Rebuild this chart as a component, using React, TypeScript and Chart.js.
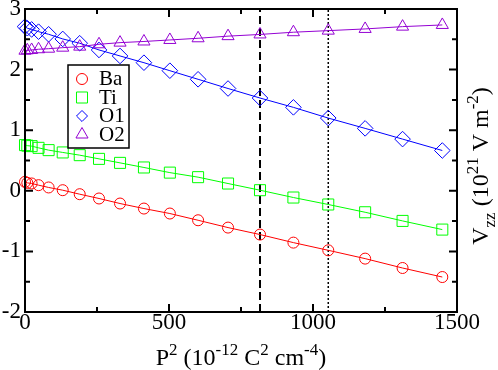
import React, { useEffect, useRef } from 'react';
import { Chart, registerables } from 'chart.js';

Chart.register(...registerables);

// ---- data ----
const P2 = [0, 8, 23, 47, 82, 131, 190, 257, 330, 413, 503, 601, 705, 816, 932, 1053, 1181, 1311, 1449];
const Ba = [0.147, 0.131, 0.121, 0.093, 0.055, 0.010, -0.056, -0.127, -0.210, -0.293, -0.375, -0.486, -0.607, -0.722, -0.855, -0.982, -1.119, -1.274, -1.423];
const Ti = [0.754, 0.745, 0.737, 0.709, 0.671, 0.633, 0.588, 0.527, 0.461, 0.385, 0.300, 0.225, 0.120, 0.010, -0.111, -0.226, -0.354, -0.497, -0.640];
const O1 = [2.709, 2.683, 2.663, 2.626, 2.583, 2.506, 2.435, 2.324, 2.225, 2.114, 1.982, 1.840, 1.688, 1.531, 1.377, 1.200, 1.030, 0.853, 0.665];
const O2 = [2.312, 2.319, 2.324, 2.336, 2.345, 2.362, 2.379, 2.418, 2.445, 2.464, 2.489, 2.517, 2.552, 2.580, 2.617, 2.643, 2.671, 2.709, 2.737];
const seriesNames = ['Ba', 'Ti', 'O1', 'O2'];
const dashedLineX = 816;
const dottedLineX = 1053;
const xRange = [0, 1500];
const yRange = [-2, 3];

const SERIF = '"Liberation Serif", "Times New Roman", "DejaVu Serif", serif';
const colors = ['#ff0000', '#00ff00', '#0000ff', '#9400d3'];
const styles = ['circle', 'rect', 'rectRot', 'triangle'];
const radii = [5.5, 7.8, 7.8, 7];

function drawMarker(ctx: CanvasRenderingContext2D, style: string, r: number, x: number, y: number) {
  ctx.beginPath();
  if (style === 'circle') {
    ctx.arc(x, y, r, 0, Math.PI * 2);
  } else if (style === 'rect') {
    const s = Math.SQRT1_2 * r;
    ctx.rect(x - s, y - s, 2 * s, 2 * s);
  } else if (style === 'rectRot') {
    const s = Math.SQRT1_2 * r;
    ctx.moveTo(x - s, y);
    ctx.lineTo(x, y + s);
    ctx.lineTo(x + s, y);
    ctx.lineTo(x, y - s);
    ctx.closePath();
  } else {
    for (let i = 0; i < 3; i++) {
      const a = (i * 2 * Math.PI) / 3;
      const px = x + Math.sin(a) * r;
      const py = y - Math.cos(a) * r;
      if (i === 0) ctx.moveTo(px, py);
      else ctx.lineTo(px, py);
    }
    ctx.closePath();
  }
  ctx.stroke();
}

type Piece = { t: string; k: 'n' | 'sup' | 'sub' };
const MAIN = 24;
const SMALL = 17;

function piecesWidth(ctx: CanvasRenderingContext2D, pieces: Piece[]) {
  let w = 0;
  for (const p of pieces) {
    ctx.font = `${p.k === 'n' ? MAIN : SMALL}px ${SERIF}`;
    w += ctx.measureText(p.t).width;
  }
  return w;
}
function drawPieces(ctx: CanvasRenderingContext2D, pieces: Piece[], x0: number, y0: number) {
  let x = x0;
  ctx.textBaseline = 'alphabetic';
  ctx.textAlign = 'left';
  for (const p of pieces) {
    ctx.font = `${p.k === 'n' ? MAIN : SMALL}px ${SERIF}`;
    const dy = p.k === 'sup' ? -10 : p.k === 'sub' ? 7 : 0;
    ctx.fillText(p.t, x, y0 + dy);
    x += ctx.measureText(p.t).width;
  }
}

const xTitle: Piece[] = [
  { t: 'P', k: 'n' }, { t: '2', k: 'sup' }, { t: ' (10', k: 'n' }, { t: '-12', k: 'sup' },
  { t: ' C', k: 'n' }, { t: '2', k: 'sup' }, { t: ' cm', k: 'n' }, { t: '-4', k: 'sup' }, { t: ')', k: 'n' },
];
const yTitle: Piece[] = [
  { t: 'V', k: 'n' }, { t: 'zz', k: 'sub' }, { t: ' (10', k: 'n' }, { t: '21', k: 'sup' },
  { t: ' V m', k: 'n' }, { t: '-2', k: 'sup' }, { t: ')', k: 'n' },
];

const decor = {
  id: 'decor',
  afterDraw(chart: any) {
    const { ctx, chartArea: a, scales } = chart;
    const xs = scales.x;
    const ys = scales.y;
    ctx.save();
    ctx.strokeStyle = '#000';
    ctx.fillStyle = '#000';
    ctx.lineWidth = 2;
    ctx.strokeRect(a.left, a.top, a.right - a.left, a.bottom - a.top);
    ctx.beginPath();
    for (let v = xRange[0] + 250; v < xRange[1]; v += 250) {
      const px = xs.getPixelForValue(v);
      const len = v % 500 === 0 ? 8 : 5;
      ctx.moveTo(px, a.bottom);
      ctx.lineTo(px, a.bottom - len);
      ctx.moveTo(px, a.top);
      ctx.lineTo(px, a.top + len);
    }
    for (let v = yRange[0] + 0.5; v < yRange[1]; v += 0.5) {
      const py = ys.getPixelForValue(v);
      const len = Math.abs(v - Math.round(v)) < 1e-6 ? 8 : 5;
      ctx.moveTo(a.left, py);
      ctx.lineTo(a.left + len, py);
      ctx.moveTo(a.right, py);
      ctx.lineTo(a.right - len, py);
    }
    ctx.stroke();

    // legend
    const bx = 68, by = 65, bw = 61, bh = 83;
    ctx.fillStyle = '#fff';
    ctx.fillRect(bx, by, bw, bh);
    ctx.lineWidth = 1.5;
    ctx.strokeStyle = '#000';
    ctx.strokeRect(bx, by, bw, bh);
    seriesNames.forEach((name, i) => {
      const iy = 79 + i * 18.5;
      ctx.strokeStyle = colors[i];
      ctx.lineWidth = 1;
      drawMarker(ctx, styles[i], radii[i], 82, iy);
      ctx.fillStyle = '#000';
      ctx.font = `21px ${SERIF}`;
      ctx.textAlign = 'left';
      ctx.textBaseline = 'middle';
      ctx.fillText(name, 99, iy + 0.5);
    });

    // titles
    ctx.fillStyle = '#000';
    const cx = (a.left + a.right) / 2;
    const wx = piecesWidth(ctx, xTitle);
    drawPieces(ctx, xTitle, cx - wx / 2, 365);
    const wy = piecesWidth(ctx, yTitle);
    ctx.translate(488, 166);
    ctx.rotate(-Math.PI / 2);
    drawPieces(ctx, yTitle, -wy / 2, 0);
    ctx.restore();
  },
};

export default function App() {
  const ref = useRef<HTMLCanvasElement | null>(null);
  useEffect(() => {
    document.body.style.margin = '0';
    const series = [Ba, Ti, O1, O2];
    const datasets: any[] = series.map((vals, i) => ({
      label: seriesNames[i],
      data: P2.map((x, j) => ({ x, y: vals[j] })),
      borderColor: colors[i],
      backgroundColor: 'rgba(0,0,0,0)',
      borderWidth: 1,
      pointStyle: styles[i],
      pointRadius: radii[i],
      pointBorderWidth: 1,
      pointBorderColor: colors[i],
      pointBackgroundColor: 'rgba(0,0,0,0)',
      showLine: true,
      clip: false,
      order: 4 - i,
    }));
    datasets.push({
      label: 'dashed',
      data: [{ x: dashedLineX, y: yRange[0] }, { x: dashedLineX, y: yRange[1] }],
      borderColor: '#000',
      borderWidth: 2,
      borderDash: [8, 4],
      pointRadius: 0,
      showLine: true,
      order: 10,
    });
    datasets.push({
      label: 'dotted',
      data: [{ x: dottedLineX, y: yRange[0] }, { x: dottedLineX, y: yRange[1] }],
      borderColor: '#000',
      borderWidth: 1.5,
      borderDash: [2, 2],
      pointRadius: 0,
      showLine: true,
      order: 10,
    });
    const chart = new Chart(ref.current as HTMLCanvasElement, {
      type: 'scatter',
      data: { datasets },
      options: {
        animation: false,
        responsive: false,
        devicePixelRatio: 1,
        layout: { padding: { left: 0, top: 9, right: 41, bottom: 0 } },
        plugins: { legend: { display: false }, tooltip: { enabled: false } },
        scales: {
          x: {
            type: 'linear',
            min: xRange[0],
            max: xRange[1],
            grid: { display: false, drawTicks: false },
            border: { display: false },
            ticks: {
              stepSize: 500,
              padding: 1,
              color: '#000',
              font: { family: SERIF, size: 23, lineHeight: 0.9 },
              maxRotation: 0,
              callback: (v: any) => String(v),
            },
            afterFit: (s: any) => {
              s.height = 58;
              s.paddingLeft = 0;
              s.paddingRight = 0;
            },
          },
          y: {
            type: 'linear',
            min: yRange[0],
            max: yRange[1],
            grid: { display: false, drawTicks: false },
            border: { display: false },
            ticks: {
              stepSize: 1,
              padding: 4,
              color: '#000',
              font: { family: SERIF, size: 23 },
              callback: (v: any) => String(v),
            },
            afterFit: (s: any) => {
              s.width = 25;
              s.paddingTop = 0;
              s.paddingBottom = 0;
            },
          },
        },
      },
      plugins: [decor],
    });
    return () => chart.destroy();
  }, []);
  return (
    <div style={{ position: 'absolute', left: 0, top: 0, width: 498, height: 370, background: '#fff' }}>
      <canvas ref={ref} width={498} height={370} style={{ width: 498, height: 370 }} />
    </div>
  );
}
